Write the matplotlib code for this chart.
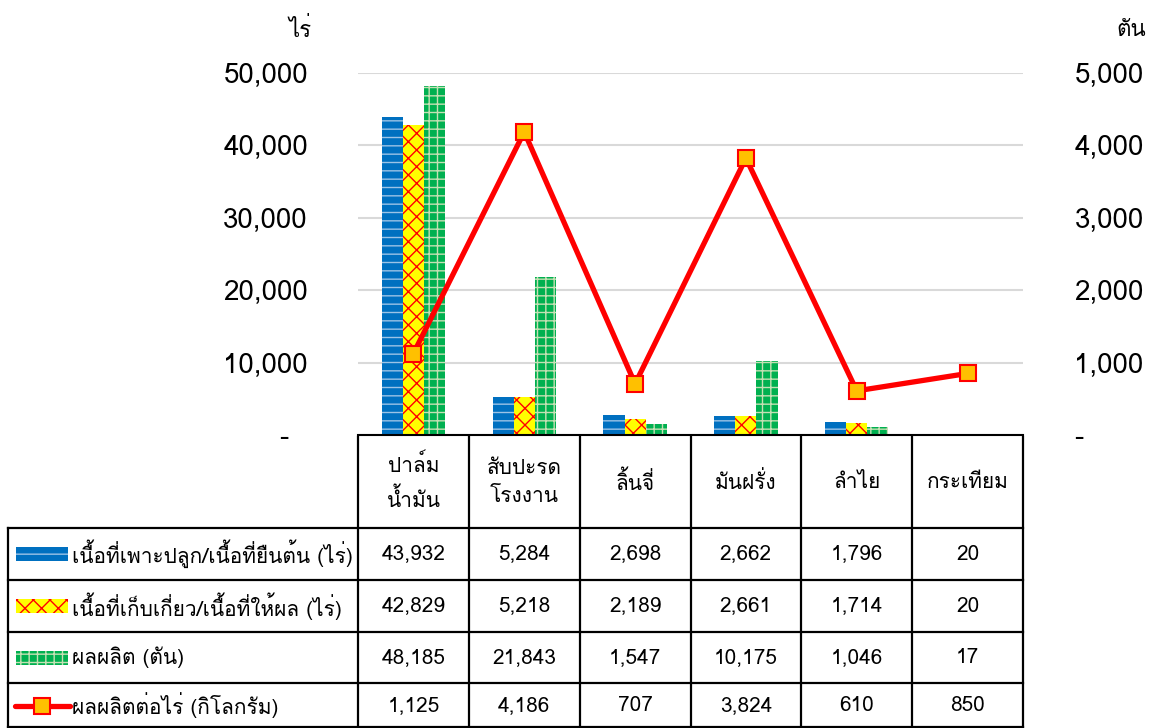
import matplotlib
matplotlib.use("Agg")
import matplotlib.pyplot as plt
from matplotlib import font_manager
from matplotlib.patches import Rectangle
from matplotlib.lines import Line2D
import numpy as np


def find_thai_font():
    # pick any installed font that really has Thai glyphs
    try:
        from fontTools.ttLib import TTFont
    except Exception:
        return None
    for f in font_manager.fontManager.ttflist:
        try:
            t = TTFont(f.fname, fontNumber=0, lazy=True)
            cmap = t.getBestCmap()
            if cmap and 0x0E01 in cmap and 0x0E31 in cmap:
                return f.name
        except Exception:
            pass
    return None


thai = find_thai_font()
fams = ([thai] if thai else []) + ['DejaVu Sans']
plt.rcParams['font.family'] = fams

# Data
categories = ['ปาล์ม\nน้ำมัน', 'สับปะรด\nโรงงาน', 'ลิ้นจี่', 'มันฝรั่ง', 'ลำไย', 'กระเทียม']
planted = [43932, 5284, 2698, 2662, 1796, 20]
harvested = [42829, 5218, 2189, 2661, 1714, 20]
production = [48185, 21843, 1547, 10175, 1046, 17]
yield_per_rai = [1125, 4186, 707, 3824, 610, 850]
series_names = ['เนื้อที่เพาะปลูก/เนื้อที่ยืนต้น (ไร่)',
                'เนื้อที่เก็บเกี่ยว/เนื้อที่ให้ผล (ไร่)',
                'ผลผลิต (ตัน)',
                'ผลผลิตต่อไร่ (กิโลกรัม)']
left_ticks = [0, 10000, 20000, 30000, 40000, 50000]
right_ticks = [0, 1000, 2000, 3000, 4000, 5000]

W, H = 1155, 728
fig = plt.figure(figsize=(W / 100, H / 100), dpi=100)

# main chart area (pixel layout)
x0, x1, ytop, ybot = 358, 1023, 73, 435
ax = fig.add_axes([x0 / W, 1 - ybot / H, (x1 - x0) / W, (ybot - ytop) / H])
ax2 = ax.twinx()

x = np.arange(len(categories))
bw = 0.19
styles = [
    dict(color='#0070C0', edgecolor='#9DC3E6', hatch='--'),
    dict(color='#FFFF00', edgecolor='#FF0000', hatch='xx'),
    dict(color='#00B050', edgecolor='#C5E0B4', hatch='++'),
]
for vals, off, st in zip([planted, harvested, production], [-bw, 0, bw], styles):
    ax.bar(x + off, vals, bw, linewidth=0, zorder=2, **st)

ax.set_xlim(-0.5, len(categories) - 0.5)
ax.set_ylim(0, 50000)
ax.set_yticks(left_ticks)
ax.set_yticklabels(['-  '] + [f'{v:,}' for v in left_ticks[1:]], fontsize=20)
ax.tick_params(axis='y', length=0, pad=36)
ax.set_xticks([])
ax.grid(axis='y', color='#D9D9D9', linewidth=1.5, zorder=0)
ax.set_axisbelow(True)
for s in ['top', 'left', 'right']:
    ax.spines[s].set_visible(False)
ax.spines['bottom'].set_color('black')
ax.spines['bottom'].set_linewidth(1.5)

ax2.plot(x, yield_per_rai, color='#FF0000', linewidth=3.8, marker='s',
         markersize=12, markerfacecolor='#FFC000', markeredgecolor='#FF0000',
         markeredgewidth=1.5, zorder=5)
ax2.set_ylim(0, 5000)
ax2.set_yticks(right_ticks)
ax2.set_yticklabels(['-'] + [f'{v:,}' for v in right_ticks[1:]], fontsize=20)
ax2.tick_params(axis='y', length=0, pad=37)
for s in ['top', 'left', 'right', 'bottom']:
    ax2.spines[s].set_visible(False)

fig.text(312 / W, 1 - 30 / H, 'ไร่', fontsize=16, ha='right', va='center')
fig.text(1146 / W, 1 - 30 / H, 'ตัน', fontsize=16, ha='right', va='center')

# data table below, drawn in pixel units
tax = fig.add_axes([0, 0, 1, 1], zorder=-1)
tax.set_xlim(0, W)
tax.set_ylim(H, 0)
tax.axis('off')

col_w = (x1 - x0) / len(categories)
col_edges = [x0 + i * col_w for i in range(len(categories) + 1)]
row_edges = [437, 528, 580, 632, 683, 728]
lk = dict(color='black', linewidth=1.6)
for cx in col_edges:
    tax.plot([cx, cx], [row_edges[0], H], **lk)
tax.plot([8, 8], [row_edges[1], H], **lk)
for ry in row_edges[1:-1]:
    tax.plot([8, x1], [ry, ry], **lk)
tax.plot([8, x1], [H - 1, H - 1], **lk)

for i, c in enumerate(categories):
    tax.text((col_edges[i] + col_edges[i + 1]) / 2, (row_edges[0] + row_edges[1]) / 2,
             c, ha='center', va='center', fontsize=15, linespacing=1.6)

rows = [planted, harvested, production, yield_per_rai]
for r, vals in enumerate(rows):
    yc = (row_edges[r + 1] + row_edges[r + 2]) / 2
    for i, v in enumerate(vals):
        tax.text((col_edges[i] + col_edges[i + 1]) / 2, yc, f'{v:,}',
                 ha='center', va='center', fontsize=15)
    tax.text(72, yc, series_names[r], ha='left', va='center', fontsize=15)
    if r < 3:
        st = styles[r]
        tax.add_patch(Rectangle((16, yc - 7), 52, 14, facecolor=st['color'],
                                edgecolor=st['edgecolor'], hatch=st['hatch'],
                                linewidth=0))
    else:
        tax.add_line(Line2D([15, 70], [yc, yc], color='#FF0000', linewidth=3.8,
                            solid_capstyle='round'))
        tax.add_line(Line2D([42], [yc], marker='s', markersize=12,
                            markerfacecolor='#FFC000', markeredgecolor='#FF0000',
                            markeredgewidth=1.5))

fig.savefig('out.png', dpi=100)
